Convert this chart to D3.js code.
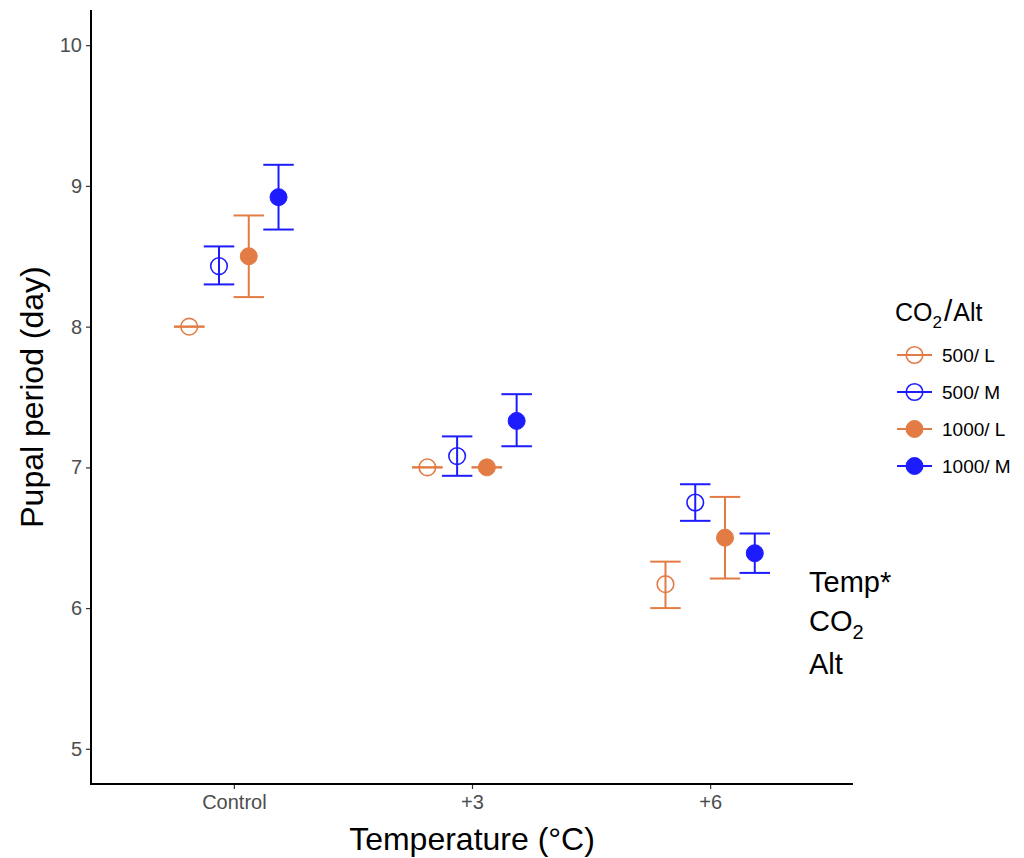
<!DOCTYPE html>
<html><head><meta charset="utf-8">
<script src="https://cdn.jsdelivr.net/npm/d3@7"></script>
<style>body{margin:0;background:#fff;} svg{display:block;font-family:"Liberation Sans",Arial,sans-serif;}</style>
</head><body><svg id="c" width="1024" height="858"></svg>
<script>
const categories = ["Control", "+3", "+6"];
const groups = ["500/ L", "500/ M", "1000/ L", "1000/ M"];
const groupColors = ["#E37B45", "#1C1CFF", "#E37B45", "#1C1CFF"];
const groupFilled = [false, false, true, true];
const means = [
  [8.00, 8.43, 8.50, 8.92],
  [7.00, 7.08, 7.00, 7.33],
  [6.17, 6.75, 6.50, 6.39]
];
const lower = [
  [8.00, 8.30, 8.21, 8.69],
  [7.00, 6.94, 7.00, 7.15],
  [6.00, 6.62, 6.21, 6.25]
];
const upper = [
  [8.00, 8.57, 8.79, 9.15],
  [7.00, 7.22, 7.00, 7.52],
  [6.33, 6.88, 6.79, 6.53]
];
const yTicks = [5, 6, 7, 8, 9, 10];

const svg = d3.select("#c");
const L = 91, R = 853, T = 10, B = 784;
const x = d3.scaleLinear().domain([0.4, 3.6]).range([L, R]);
const y = d3.scaleLinear().domain([4.75, 10.25]).range([B, T]);
const dodge = d3.scaleLinear().domain([0, 3]).range([-0.1875, 0.1875]);
const capHalf = 0.064;

// axes
const yAxis = d3.axisLeft(y).tickValues(yTicks).tickSize(5).tickPadding(4).tickFormat(d3.format("d"));
const gy = svg.append("g").attr("transform", `translate(${L},0)`).call(yAxis);
gy.select(".domain").remove();
gy.selectAll(".tick line").attr("stroke", "#333").attr("stroke-width", 1.2);
gy.selectAll(".tick text").attr("fill", "#4D4D4D").attr("font-size", 20);

const xAxis = d3.axisBottom(x).tickValues([1, 2, 3]).tickSize(5).tickPadding(6).tickFormat((d) => categories[d - 1]);
const gx = svg.append("g").attr("transform", `translate(0,${B})`).call(xAxis);
gx.select(".domain").remove();
gx.selectAll(".tick line").attr("stroke", "#333").attr("stroke-width", 1.2);
gx.selectAll(".tick text").attr("fill", "#4D4D4D").attr("font-size", 20);

svg.append("line").attr("x1", L).attr("x2", L).attr("y1", T).attr("y2", B + 1).attr("stroke", "#000").attr("stroke-width", 2);
svg.append("line").attr("x1", L - 1).attr("x2", R).attr("y1", B).attr("y2", B).attr("stroke", "#000").attr("stroke-width", 2);

// data
const data = [];
categories.forEach((c, i) => groups.forEach((g, j) => {
  data.push({ xi: i + 1 + dodge(j), m: means[i][j], lo: lower[i][j], hi: upper[i][j], col: groupColors[j], fill: groupFilled[j] });
}));

const gp = svg.append("g");
data.forEach((d) => {
  const cx = x(d.xi);
  const g = gp.append("g").attr("stroke", d.col).attr("stroke-width", 2);
  g.append("line").attr("x1", cx).attr("x2", cx).attr("y1", y(d.lo)).attr("y2", y(d.hi));
  g.append("line").attr("x1", x(d.xi - capHalf)).attr("x2", x(d.xi + capHalf)).attr("y1", y(d.lo)).attr("y2", y(d.lo));
  g.append("line").attr("x1", x(d.xi - capHalf)).attr("x2", x(d.xi + capHalf)).attr("y1", y(d.hi)).attr("y2", y(d.hi));
  g.append("circle").attr("cx", cx).attr("cy", y(d.m)).attr("r", d.fill ? 8.5 : 8.3)
    .attr("fill", d.fill ? d.col : "none").attr("stroke-width", d.fill ? 1 : 1.6);
});

// axis titles
svg.append("text").attr("x", (L + R) / 2).attr("y", 850).attr("text-anchor", "middle").attr("font-size", 32).attr("fill", "#000").text("Temperature (°C)");
svg.append("text").attr("transform", `translate(43,${(T + B) / 2}) rotate(-90)`).attr("text-anchor", "middle").attr("font-size", 32).attr("fill", "#000").text("Pupal period (day)");

// legend
const lg = svg.append("g");
const lt = lg.append("text").attr("x", 895).attr("y", 321).attr("font-size", 25).attr("fill", "#000");
lt.append("tspan").text("CO");
lt.append("tspan").attr("font-size", 17).attr("dy", 7).text("2");
lt.append("tspan").attr("dy", -7).attr("font-size", 30).attr("dx", 2).text("/");
lt.append("tspan").attr("dx", 1).text("Alt");
groups.forEach((g, j) => {
  const yy = 355 + j * 37;
  const gg = lg.append("g").attr("stroke", groupColors[j]).attr("stroke-width", 2);
  gg.append("line").attr("x1", 897).attr("x2", 932).attr("y1", yy).attr("y2", yy);
  gg.append("circle").attr("cx", 914.5).attr("cy", yy).attr("r", groupFilled[j] ? 8.5 : 8.3)
    .attr("fill", groupFilled[j] ? groupColors[j] : "none").attr("stroke-width", groupFilled[j] ? 1 : 1.6);
  lg.append("text").attr("x", 942).attr("y", yy + 7).attr("font-size", 19).attr("fill", "#000").text(g);
});

// annotation
const an = svg.append("g").attr("font-size", 29).attr("fill", "#000");
an.append("text").attr("x", 809).attr("y", 592).text("Temp*");
const co = an.append("text").attr("x", 809).attr("y", 631);
co.append("tspan").text("CO");
co.append("tspan").attr("font-size", 20).attr("dy", 8).text("2");
an.append("text").attr("x", 809).attr("y", 674).text("Alt");
</script></body></html>
